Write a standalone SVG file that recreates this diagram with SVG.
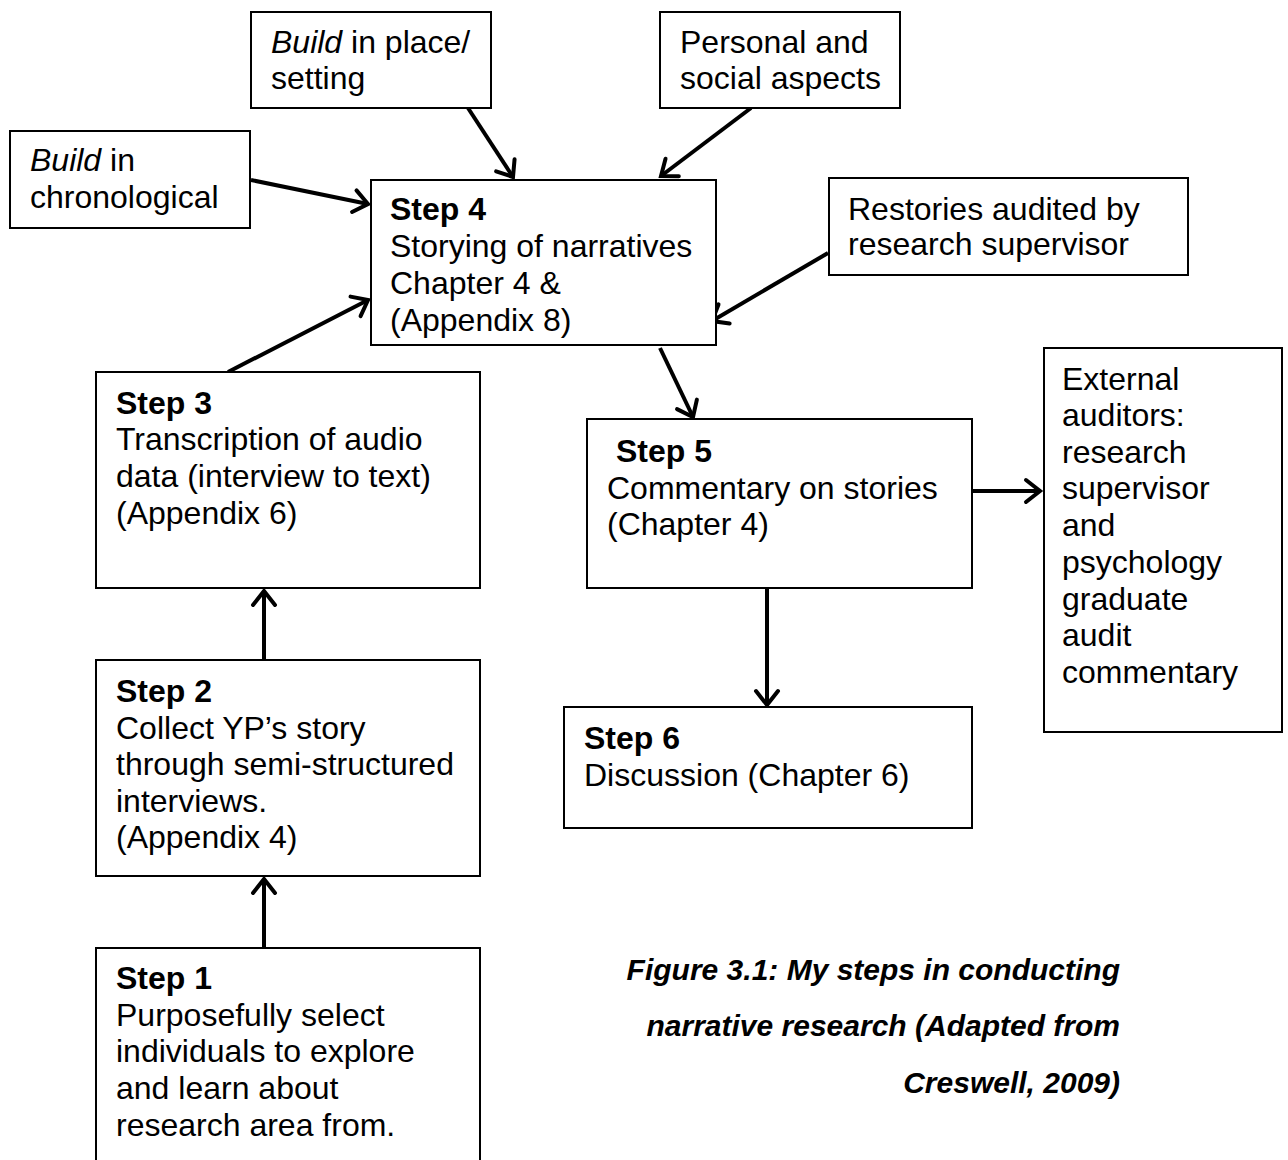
<svg xmlns="http://www.w3.org/2000/svg" width="1288" height="1160" viewBox="0 0 1288 1160">
<defs>
<style>
.box{fill:#fff;stroke:#000;stroke-width:2}
.t{font-family:"Liberation Sans",Arial,sans-serif;font-size:32px;fill:#000}
.b{font-weight:bold}
.i{font-style:italic}
.cap{font-family:"Liberation Sans",Arial,sans-serif;font-size:30px;font-weight:bold;font-style:italic;fill:#000;text-anchor:end}
.c{fill:none;stroke:#000;stroke-width:4;marker-end:url(#ah)}
</style>
<marker id="ah" markerUnits="userSpaceOnUse" markerWidth="30" markerHeight="30" refX="0" refY="0" viewBox="-18 -15 22 30" orient="auto">
<path d="M-14,-11 L0,0 L-14,11" fill="none" stroke="#000" stroke-width="4" stroke-linejoin="miter" stroke-linecap="round"/>
</marker>
</defs>
<rect width="1288" height="1160" fill="#fff"/>
<g id="connectors">
<line class="c" x1="468" y1="108" x2="513" y2="177"/>
<line class="c" x1="751" y1="108" x2="661" y2="176"/>
<line class="c" x1="251" y1="180" x2="368" y2="204"/>
<line class="c" x1="228" y1="372" x2="368" y2="300"/>
<line class="c" x1="828" y1="253" x2="712" y2="321"/>
<line class="c" x1="660" y1="348" x2="693" y2="417"/>
<line class="c" x1="972" y1="491" x2="1040" y2="491"/>
<line class="c" x1="767" y1="588" x2="767" y2="705"/>
<line class="c" x1="264" y1="660" x2="264" y2="591"/>
<line class="c" x1="264" y1="948" x2="264" y2="879"/>
</g>
<g id="place">
<rect class="box" x="251" y="12" width="240" height="96"/>
<text class="t" x="271" y="53"><tspan class="i">Build</tspan> in place/</text>
<text class="t" x="271" y="89">setting</text>
</g>
<g id="personal">
<rect class="box" x="660" y="12" width="240" height="96"/>
<text class="t" x="680" y="53">Personal and</text>
<text class="t" x="680" y="89">social aspects</text>
</g>
<g id="chrono">
<rect class="box" x="10" y="131" width="240" height="97"/>
<text class="t" x="30" y="171"><tspan class="i">Build</tspan> in</text>
<text class="t" x="30" y="208">chronological</text>
</g>
<g id="step4">
<rect class="box" x="371" y="180" width="345" height="165"/>
<text class="t b" x="390" y="220">Step 4</text>
<text class="t" x="390" y="257">Storying of narratives</text>
<text class="t" x="390" y="294">Chapter 4 &amp;</text>
<text class="t" x="390" y="331">(Appendix 8)</text>
</g>
<g id="restories">
<rect class="box" x="829" y="178" width="359" height="97"/>
<text class="t" x="848" y="220">Restories audited by</text>
<text class="t" x="848" y="255">research supervisor</text>
</g>
<g id="external">
<rect class="box" x="1044" y="348" width="238" height="384"/>
<text class="t" x="1062" y="390">External</text>
<text class="t" x="1062" y="426">auditors:</text>
<text class="t" x="1062" y="463">research</text>
<text class="t" x="1062" y="499">supervisor</text>
<text class="t" x="1062" y="536">and</text>
<text class="t" x="1062" y="573">psychology</text>
<text class="t" x="1062" y="610">graduate</text>
<text class="t" x="1062" y="646">audit</text>
<text class="t" x="1062" y="683">commentary</text>
</g>
<g id="step5">
<rect class="box" x="587" y="419" width="385" height="169"/>
<text class="t b" x="616" y="462">Step 5</text>
<text class="t" x="607" y="499">Commentary on stories</text>
<text class="t" x="607" y="535">(Chapter 4)</text>
</g>
<g id="step6">
<rect class="box" x="564" y="707" width="408" height="121"/>
<text class="t b" x="584" y="749">Step 6</text>
<text class="t" x="584" y="786">Discussion (Chapter 6)</text>
</g>
<g id="step3">
<rect class="box" x="96" y="372" width="384" height="216"/>
<text class="t b" x="116" y="414">Step 3</text>
<text class="t" x="116" y="450">Transcription of audio</text>
<text class="t" x="116" y="487">data (interview to text)</text>
<text class="t" x="116" y="524">(Appendix 6)</text>
</g>
<g id="step2">
<rect class="box" x="96" y="660" width="384" height="216"/>
<text class="t b" x="116" y="702">Step 2</text>
<text class="t" x="116" y="739">Collect YP’s story</text>
<text class="t" x="116" y="775">through semi-structured</text>
<text class="t" x="116" y="812">interviews.</text>
<text class="t" x="116" y="848">(Appendix 4)</text>
</g>
<g id="step1">
<rect class="box" x="96" y="948" width="384" height="230"/>
<text class="t b" x="116" y="989">Step 1</text>
<text class="t" x="116" y="1026">Purposefully select</text>
<text class="t" x="116" y="1062">individuals to explore</text>
<text class="t" x="116" y="1099">and learn about</text>
<text class="t" x="116" y="1136">research area from.</text>
</g>
<g id="caption">
<text class="cap" x="1120" y="980">Figure 3.1: My steps in conducting</text>
<text class="cap" x="1120" y="1036">narrative research (Adapted from</text>
<text class="cap" x="1120" y="1093">Creswell, 2009)</text>
</g>
</svg>
